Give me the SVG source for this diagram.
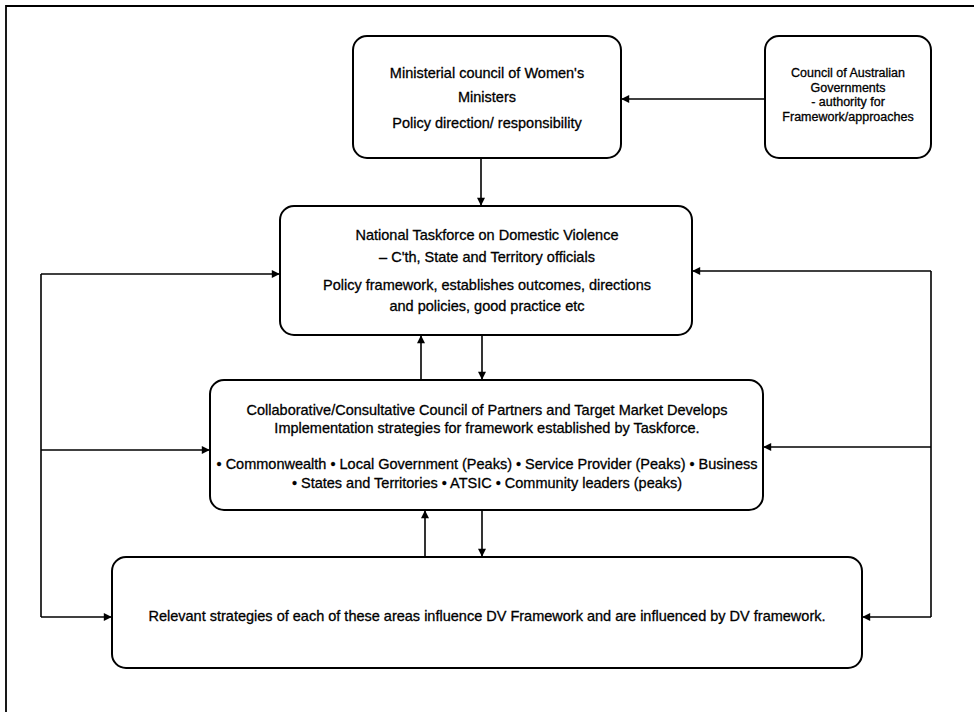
<svg xmlns="http://www.w3.org/2000/svg" width="974" height="712" viewBox="0 0 974 712">
<defs>
<style>
.box{fill:#fff;stroke:#000;stroke-width:2}
.t{font-family:"Liberation Sans",Arial,sans-serif;font-size:14.5px;fill:#000;stroke:#000;stroke-width:0.3;text-anchor:middle}
.s{font-size:12.5px}
.c{fill:none;stroke:#000;stroke-width:1.6}
.frame{fill:none;stroke:#000;stroke-width:1.8}
</style>
<marker id="ah" viewBox="0 0 10 10" refX="9" refY="5" markerWidth="9" markerHeight="8" markerUnits="userSpaceOnUse" orient="auto">
<path d="M0,0 L10,5 L0,10 z" fill="#000"/>
</marker>
</defs>
<rect width="974" height="712" fill="#fff"/>
<g id="frame">
<path class="frame" d="M6,712 L6,6 L974,6"/>
</g>
<g id="connectors">
<path class="c" d="M765,99 L622,99" marker-end="url(#ah)"/>
<path class="c" d="M481,158 L481,205" marker-end="url(#ah)"/>
<path class="c" d="M482,335 L482,379" marker-end="url(#ah)"/>
<path class="c" d="M421,380 L421,336" marker-end="url(#ah)"/>
<path class="c" d="M482,510 L482,556" marker-end="url(#ah)"/>
<path class="c" d="M425,557 L425,511" marker-end="url(#ah)"/>
<path class="c" d="M41,274 L41,617"/>
<path class="c" d="M41,274 L279,274" marker-end="url(#ah)"/>
<path class="c" d="M41,450 L209,450" marker-end="url(#ah)"/>
<path class="c" d="M41,617 L111,617" marker-end="url(#ah)"/>
<path class="c" d="M931,271 L931,617"/>
<path class="c" d="M931,271 L693,271" marker-end="url(#ah)"/>
<path class="c" d="M931,447 L764,447" marker-end="url(#ah)"/>
<path class="c" d="M931,617 L863,617" marker-end="url(#ah)"/>
</g>
<g id="ministerial">
<rect class="box" x="353" y="36" width="268" height="122" rx="14"/>
<text class="t" x="487" y="78" font-size="15">Ministerial council of Women's</text>
<text class="t" x="487" y="102">Ministers</text>
<text class="t" x="487" y="128">Policy direction/ responsibility</text>
</g>
<g id="coag">
<rect class="box" x="765" y="36" width="166" height="122" rx="14"/>
<text class="t s" x="848" y="77">Council of Australian</text>
<text class="t s" x="848" y="91.5">Governments</text>
<text class="t s" x="848" y="106">- authority for</text>
<text class="t s" x="848" y="120.5">Framework/approaches</text>
</g>
<g id="taskforce">
<rect class="box" x="280" y="206" width="412" height="129" rx="14"/>
<text class="t" x="487" y="240">National Taskforce on Domestic Violence</text>
<text class="t" x="487" y="262">– C'th, State and Territory officials</text>
<text class="t" x="487" y="290">Policy framework, establishes outcomes, directions</text>
<text class="t" x="487" y="311">and policies, good practice etc</text>
</g>
<g id="council">
<rect class="box" x="210" y="380" width="553" height="130" rx="14"/>
<text class="t" x="487" y="415">Collaborative/Consultative Council of Partners and Target Market Develops</text>
<text class="t" x="487" y="433">Implementation strategies for framework established by Taskforce.</text>
<text class="t" x="487" y="469">• Commonwealth • Local Government (Peaks) • Service Provider (Peaks) • Business</text>
<text class="t" x="487" y="488">• States and Territories •  ATSIC • Community leaders (peaks)</text>
</g>
<g id="strategies">
<rect class="box" x="112" y="557" width="750" height="111" rx="14"/>
<text class="t" x="487" y="621">Relevant strategies of each of these areas influence DV Framework and are influenced by DV framework.</text>
</g>
</svg>
